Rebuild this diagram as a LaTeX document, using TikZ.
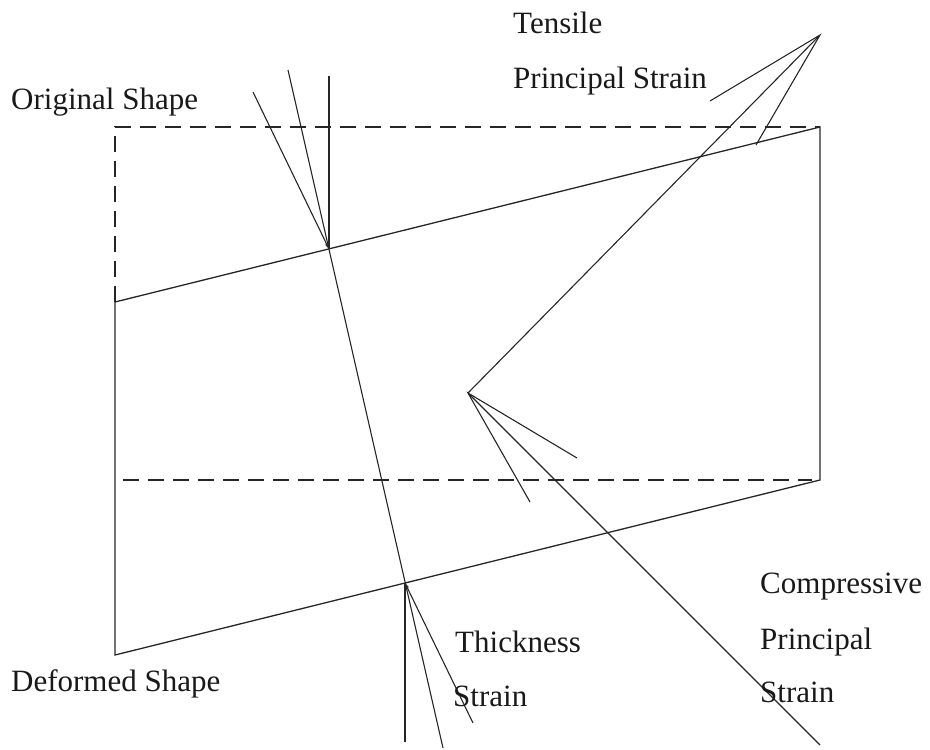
\documentclass[tikz,border=0pt]{standalone}
\usepackage{fontspec}
\setmainfont{Liberation Serif}
\usetikzlibrary{arrows.meta}
\begin{document}
\begin{tikzpicture}[x=1pt,y=-1pt,
  edge/.style={line width=1.3pt,draw=black!85},
  orig/.style={edge,dash pattern=on 16pt off 9pt},
  thin/.style={line width=1.1pt,draw=black!85},
  tip/.style={-{Stealth[length=6pt,width=3.5pt]}},
  lbl/.style={anchor=base west,inner sep=0pt,font=\fontsize{31}{37}\selectfont,text=black!90}]
\useasboundingbox (0,0) rectangle (930,750);
% corners
\coordinate (OTL) at (115,127);
\coordinate (OTR) at (820,127);
\coordinate (DTL) at (115,302);
\coordinate (DBL) at (115,655);
\coordinate (OBL) at (123,480);
\coordinate (DBR) at (820,480);
\coordinate (OBR) at (812,480);
% original shape (dashed)
\draw[orig] (DTL) -- (OTL) -- (OTR);
\draw[orig] (OBL) -- (OBR);
% deformed shape (solid)
\draw[edge] (DTL) -- (DBL) -- (DBR) -- (OTR) -- cycle;
% thickness strain
\coordinate (I1) at (329,249);
\coordinate (I2) at (405,583);
\coordinate (Ltop) at (288,70);
\coordinate (Lbot) at (443,748);
\coordinate (V1) at (329,76);
\coordinate (V2) at (405,742);
\coordinate (A1) at (253,92);
\coordinate (A2) at (473,723);
\draw[thin] (Ltop) -- (Lbot);
\draw[thin] (V1) -- (I1);
\draw[thin] (I2) -- (V2);
\draw[thin,tip] (A1) -- (I1);
\draw[thin,tip] (A2) -- (I2);
% principal strains
\coordinate (M) at (468,393);
\coordinate (P) at (820,35);
\coordinate (T1) at (710,101);
\coordinate (T2) at (756,145);
\coordinate (C1) at (577,458);
\coordinate (C2) at (530,502);
\coordinate (Cend) at (820,745);
\draw[thin,tip] (M) -- (P);
\draw[thin] (T1) -- (P) -- (T2);
\draw[thin,tip] (Cend) -- (M);
\draw[thin] (C1) -- (M) -- (C2);
% labels
\node[lbl] (tens) at (513,33) {Tensile};
\node[lbl] (tens2) at (513,88) {Principal Strain};
\node[lbl] (origl) at (11,109) {Original Shape};
\node[lbl] (defl) at (11,691) {Deformed Shape};
\node[lbl] (thick) at (455,652) {Thickness};
\node[lbl] (thick2) at (453,706) {Strain};
\node[lbl] (comp) at (760,593) {Compressive};
\node[lbl] (comp2) at (760,649) {Principal};
\node[lbl] (comp3) at (760,702) {Strain};
\end{tikzpicture}
\end{document}
